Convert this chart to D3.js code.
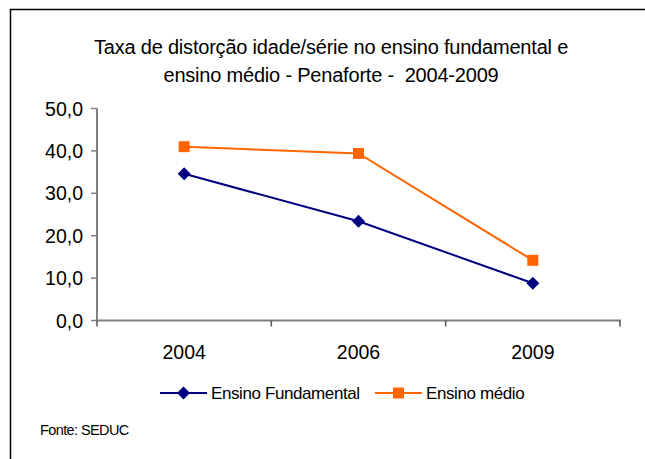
<!DOCTYPE html>
<html><head><meta charset="utf-8">
<script src="https://cdn.jsdelivr.net/npm/d3@7"></script>
<style>body{margin:0;background:#fff}svg{display:block;font-family:"Liberation Sans",Arial,sans-serif}text{white-space:pre}</style>
</head><body><svg id="c" width="645" height="459"></svg>
<script>
const categories = ["2004","2006","2009"];
const fundamental = [34.6, 23.4, 8.8];
const medio = [41.0, 39.4, 14.2];
const yTicks = [0,10,20,30,40,50];
const seriesNames = ["Ensino Fundamental","Ensino médio"];
const titleLines = ["Taxa de distorção idade/série no ensino fundamental e","ensino médio - Penaforte -  2004-2009"];

const svg = d3.select("#c");
// frame (left and top)
svg.append("path").attr("d","M10.5,459 V9.5 H645").attr("fill","none").attr("stroke","#000").attr("stroke-width",1.5);

svg.selectAll("text.title").data(titleLines).join("text").attr("class","title")
  .attr("x",331).attr("y",(d,i)=>54+i*28).attr("text-anchor","middle")
  .attr("font-size",20).attr("letter-spacing",-0.2).attr("fill","#000").text(d=>d);

const x = d3.scaleBand().domain(categories).range([97,620]);
const y = d3.scaleLinear().domain([0,50]).range([320.5,108.5]);
const g = svg.append("g");

// y axis
g.append("line").attr("x1",97).attr("x2",97).attr("y1",y(50)).attr("y2",y(0)).attr("stroke","#808080").attr("stroke-width",2);
g.selectAll("line.yt").data(yTicks).join("line").attr("class","yt")
  .attr("x1",91).attr("x2",97).attr("y1",d=>y(d)).attr("y2",d=>y(d)).attr("stroke","#808080").attr("stroke-width",1.5);
g.selectAll("text.yl").data(yTicks).join("text").attr("class","yl")
  .attr("x",83).attr("y",d=>y(d)+7).attr("text-anchor","end").attr("font-size",19.5)
  .text(d=>d3.format(".1f")(d).replace(".",","));
// x axis
g.append("line").attr("x1",96).attr("x2",621).attr("y1",y(0)).attr("y2",y(0)).attr("stroke","#808080").attr("stroke-width",2);
const xt = [97, ...categories.map(c=>x(c)+x.bandwidth())];
g.selectAll("line.xt").data(xt).join("line").attr("class","xt")
  .attr("x1",d=>d).attr("x2",d=>d).attr("y1",y(0)).attr("y2",y(0)+6).attr("stroke","#555").attr("stroke-width",1.5);
g.selectAll("text.xl").data(categories).join("text").attr("class","xl")
  .attr("x",d=>x(d)+x.bandwidth()/2).attr("y",359).attr("text-anchor","middle").attr("font-size",19.5).text(d=>d);

const cx = d=>x(d)+x.bandwidth()/2;
const line = d3.line().x((d,i)=>cx(categories[i])).y(d=>y(d));
const colors = ["#000080","#FF6600"];
const diamond = "M0,-6.5L6.5,0L0,6.5L-6.5,0Z";
const square = "M-5.5,-5.5H5.5V5.5H-5.5Z";

g.append("path").datum(medio).attr("d",line).attr("fill","none").attr("stroke",colors[1]).attr("stroke-width",2);
g.append("path").datum(fundamental).attr("d",line).attr("fill","none").attr("stroke",colors[0]).attr("stroke-width",2);
g.selectAll("path.m1").data(medio).join("path").attr("class","m1")
  .attr("transform",(d,i)=>`translate(${cx(categories[i])},${y(d)})`).attr("d",square).attr("fill",colors[1]);
g.selectAll("path.m0").data(fundamental).join("path").attr("class","m0")
  .attr("transform",(d,i)=>`translate(${cx(categories[i])},${y(d)})`).attr("d",diamond).attr("fill",colors[0]);

// legend
const leg = [{x:160, name:seriesNames[0], c:colors[0], m:diamond},{x:375, name:seriesNames[1], c:colors[1], m:square}];
const lg = svg.append("g");
leg.forEach(l=>{
  lg.append("line").attr("x1",l.x).attr("x2",l.x+47).attr("y1",393).attr("y2",393).attr("stroke",l.c).attr("stroke-width",2);
  lg.append("path").attr("transform",`translate(${l.x+23.5},393)`).attr("d",l.m).attr("fill",l.c);
  lg.append("text").attr("x",l.x+51).attr("y",399).attr("font-size",17).attr("letter-spacing",-0.4).text(l.name);
});
svg.append("text").attr("x",40).attr("y",435).attr("font-size",14.5).attr("letter-spacing",-0.6).text("Fonte: SEDUC");
</script></body></html>
